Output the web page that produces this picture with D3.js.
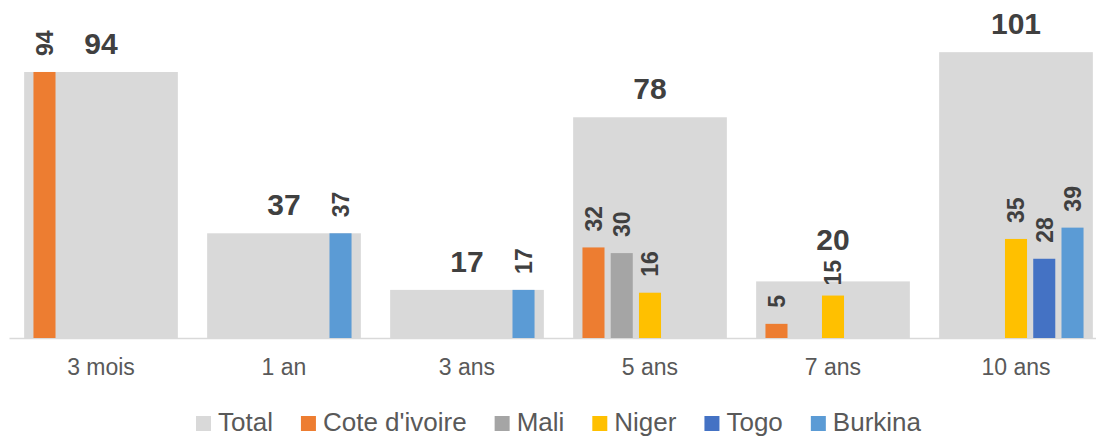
<!DOCTYPE html>
<html>
<head>
<meta charset="utf-8">
<script src="https://cdn.jsdelivr.net/npm/d3@7"></script>
<style>
  body { margin: 0; background: #fff; }
  svg { display: block; font-family: Arial, "Liberation Sans", sans-serif; }
</style>
</head>
<body>
<div id="chart"></div>
<script>
// categories and values
const categories = ["3 mois", "1 an", "3 ans", "5 ans", "7 ans", "10 ans"];
const totals = [94, 37, 17, 78, 20, 101];
const seriesNames = ["Cote d'ivoire", "Mali", "Niger", "Togo", "Burkina"];
const coteIvoire = [94, null, null, 32, 5, null];
const mali = [null, null, null, 30, null, null];
const niger = [null, null, null, 16, 15, 35];
const togo = [null, null, null, null, null, 28];
const burkina = [null, 37, 17, null, null, 39];
const seriesValues = [coteIvoire, mali, niger, togo, burkina];
const colors = {
  "Total": "#d9d9d9",
  "Cote d'ivoire": "#ed7d31",
  "Mali": "#a5a5a5",
  "Niger": "#ffc000",
  "Togo": "#4472c4",
  "Burkina": "#5b9bd5"
};

const W = 1096, H = 437;
const baseY = 338;

const svg = d3.select("#chart").append("svg")
  .attr("width", W)
  .attr("height", H);

const x0 = d3.scaleBand()
  .domain(categories)
  .range([9.5, 1107.5])
  .paddingInner(0.16)
  .paddingOuter(0.08);

const x1 = d3.scaleBand()
  .domain(seriesNames)
  .range([0, x0.bandwidth()])
  .paddingInner(0.22)
  .paddingOuter(0.33);

const y = d3.scaleLinear()
  .domain([0, 110])
  .range([baseY, baseY - 110 * 2.83]);

// total background bars
svg.append("g").selectAll("rect")
  .data(totals)
  .enter().append("rect")
  .attr("x", (d, i) => x0(categories[i]))
  .attr("y", d => y(d))
  .attr("width", x0.bandwidth())
  .attr("height", d => y(0) - y(d))
  .attr("fill", colors["Total"]);

// axis line
svg.append("line")
  .attr("x1", 9.5).attr("x2", W)
  .attr("y1", baseY + 0.5).attr("y2", baseY + 0.5)
  .attr("stroke", "#d9d9d9")
  .attr("stroke-width", 1.5);

// country bars
const flat = [];
seriesNames.forEach((s, si) => {
  seriesValues[si].forEach((v, ci) => {
    if (v != null) flat.push({ s: s, cat: categories[ci], v: v });
  });
});

svg.append("g").selectAll("rect")
  .data(flat)
  .enter().append("rect")
  .attr("x", d => x0(d.cat) + x1(d.s))
  .attr("y", d => y(d.v))
  .attr("width", x1.bandwidth())
  .attr("height", d => y(0) - y(d.v))
  .attr("fill", d => colors[d.s]);

// rotated country labels (the 7 ans Niger label sits closer to its bar)
svg.append("g").selectAll("text")
  .data(flat)
  .enter().append("text")
  .attr("transform", d => {
    const cx = x0(d.cat) + x1(d.s) + x1.bandwidth() / 2;
    const gap = (d.cat === "7 ans" && d.s === "Niger") ? 10 : 16;
    return "translate(" + cx + "," + (y(d.v) - gap) + ") rotate(-90)";
  })
  .attr("dy", "0.36em")
  .attr("text-anchor", "start")
  .attr("font-size", 23)
  .attr("font-weight", "bold")
  .attr("fill", "#404040")
  .text(d => d.v);

// total labels (7 ans one was lifted in the original)
svg.append("g").selectAll("text")
  .data(totals)
  .enter().append("text")
  .attr("x", (d, i) => x0(categories[i]) + x0.bandwidth() / 2)
  .attr("y", (d, i) => y(d) - (categories[i] === "7 ans" ? 31 : 18))
  .attr("text-anchor", "middle")
  .attr("font-size", 30)
  .attr("font-weight", "bold")
  .attr("fill", "#404040")
  .text(d => d);

// category labels
svg.append("g").selectAll("text")
  .data(categories)
  .enter().append("text")
  .attr("x", d => x0(d) + x0.bandwidth() / 2)
  .attr("y", 375)
  .attr("text-anchor", "middle")
  .attr("font-size", 23)
  .attr("fill", "#595959")
  .text(d => d);

// legend
const legendItems = ["Total"].concat(seriesNames);
const legend = svg.append("g");
let lx = 0;
legendItems.forEach(name => {
  const g = legend.append("g").attr("transform", "translate(" + lx + ",0)");
  g.append("rect")
    .attr("x", 0).attr("y", 416)
    .attr("width", 15).attr("height", 15)
    .attr("fill", colors[name]);
  const t = g.append("text")
    .attr("x", 22).attr("y", 431)
    .attr("font-size", 26)
    .attr("fill", "#595959")
    .text(name);
  lx += 22 + t.node().getComputedTextLength() + 28;
});
const legendW = lx - 28;
legend.attr("transform", "translate(" + (558.5 - legendW / 2) + ",0)");
</script>
</body>
</html>
